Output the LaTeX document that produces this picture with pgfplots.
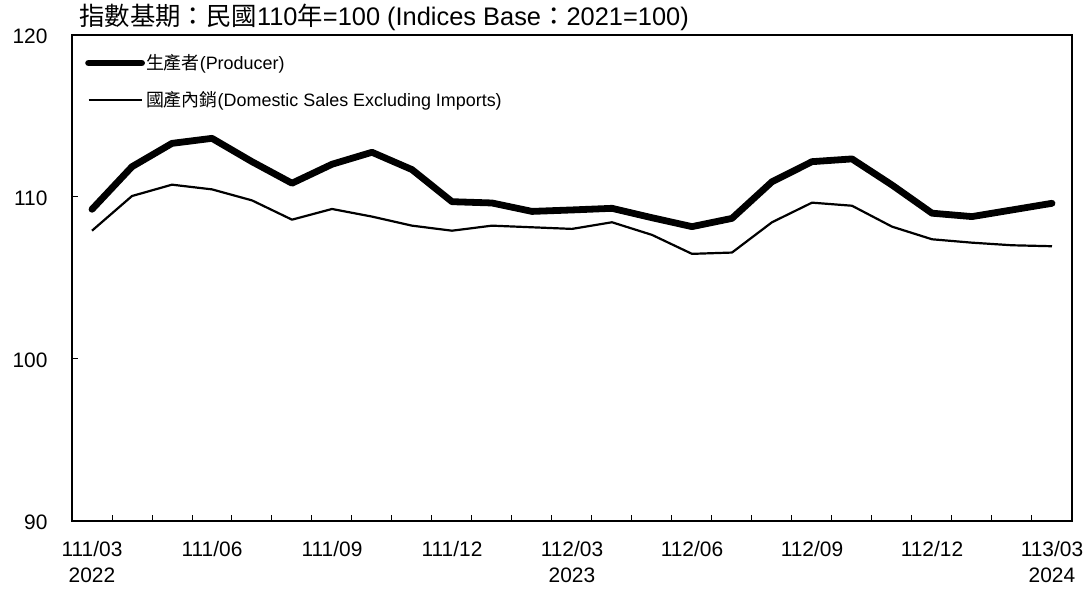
\documentclass[border=0pt]{standalone}
\usepackage{fontspec}
\setmainfont{Liberation Sans}
\newfontfamily\cjk{Noto Sans CJK TC}
\usepackage{pgfplots}
\pgfplotsset{compat=1.18}
\begin{document}
\begin{tikzpicture}[x=1bp,y=1bp]
\path[use as bounding box] (0,0) rectangle (1089,589);
\begin{axis}[
  name=ax,
  at={(72bp,68bp)}, anchor=south west, scale only axis,
  width=1000bp, height=486bp,
  xmin=-0.5, xmax=24.5, ymin=90, ymax=120,
  axis line style={line width=1.6bp},
  tick pos=left, tick align=inside,
  major tick length=6bp,
  tick style={line width=1bp, black},
  ytick={90,100,110,120},
  /pgf/number format/assume math mode=true,
  yticklabel style={font=\fontsize{21}{25}\selectfont, xshift=-21bp, yshift=-1bp},
  xtick={0.5,1.5,...,23.5}, xticklabels={},
  extra x ticks={0,3,6,9,12,15,18,21,24},
  extra x tick labels={{111/03\\2022},{111/06},{111/09},{111/12},{112/03\\2023},{112/06},{112/09},{112/12},{113/03\\2024}},
  extra x tick style={major tick length=0pt},
  xticklabel style={font=\fontsize{21}{26}\selectfont, align=center, yshift=-17bp},
  legend style={draw=none, fill=none, at={(rel axis cs:0.013,0.962)}, anchor=north west,
    font=\fontsize{18}{22}\selectfont, row sep=18bp, inner sep=0pt,
    nodes={inner sep=1bp}},
  legend cell align=left,
  legend image code/.code={\draw[#1] (0bp,0bp) -- (53bp,0bp);},
]
\addplot[black, line width=6.8bp, line join=round, line cap=round] coordinates {
(0,109.24) (1,111.87) (2,113.31) (3,113.62) (4,112.18) (5,110.85) (6,112.02) (7,112.76) (8,111.69) (9,109.71) (10,109.63) (11,109.11) (12,109.2) (13,109.3) (14,108.72) (15,108.17) (16,108.68) (17,110.94) (18,112.18) (19,112.35) (20,110.74) (21,109.0) (22,108.79) (23,109.2) (24,109.61)
};
\addlegendentry{{\cjk 生產者}(Producer)}
\addplot[black, line width=2.2bp, line join=round] coordinates {
(0,107.92) (1,110.06) (2,110.76) (3,110.47) (4,109.79) (5,108.6) (6,109.26) (7,108.79) (8,108.23) (9,107.92) (10,108.23) (11,108.13) (12,108.03) (13,108.44) (14,107.66) (15,106.49) (16,106.57) (17,108.44) (18,109.65) (19,109.46) (20,108.17) (21,107.39) (22,107.18) (23,107.02) (24,106.96)
};
\addlegendentry{{\cjk 國產內銷}(Domestic Sales Excluding Imports)}
\end{axis}
\node[anchor=base west, inner sep=0pt, font=\fontsize{25.5}{30}\selectfont] at ([xshift=7bp,yshift=9bp]ax.north west) {{\cjk 指數基期：民國}110{\cjk 年}=100 (Indices Base{\cjk ：}2021=100)};
\end{tikzpicture}
\end{document}
